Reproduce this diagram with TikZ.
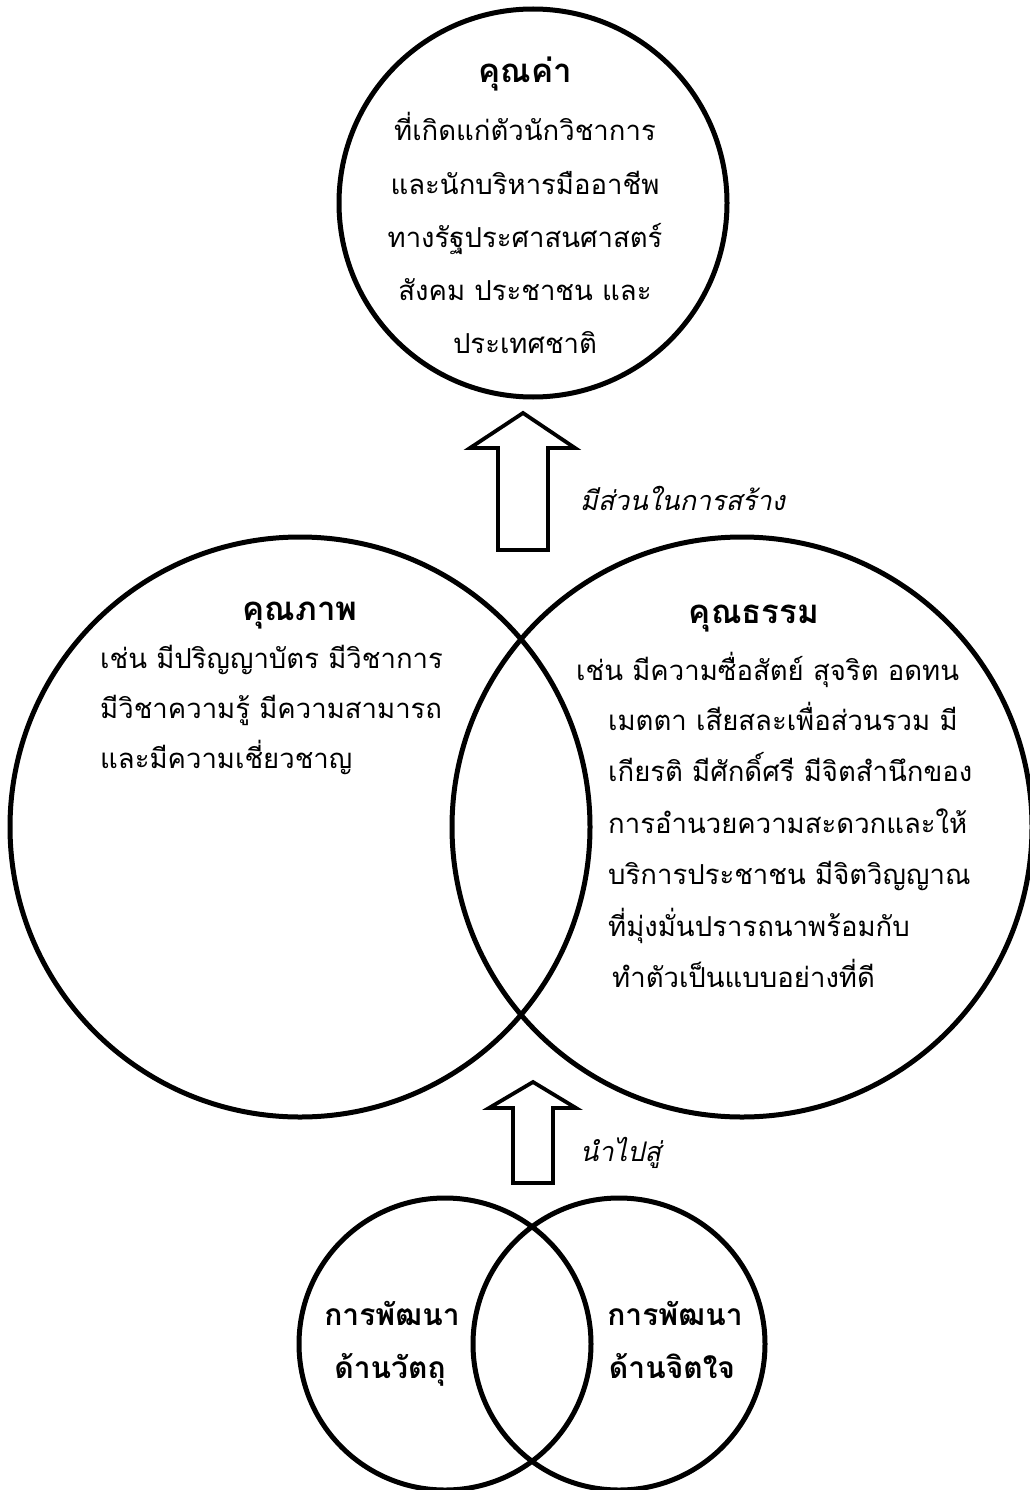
\documentclass[tikz,border=0pt]{standalone}
\usepackage{fontspec}
\newfontfamily\thai[Script=Thai]{Loma}
\tikzset{
  ring/.style={draw, circle, line width=5pt, inner sep=0pt},
  head/.style={font=\thai\bfseries\fontsize{33}{38}\selectfont, inner sep=0pt},
  subhead/.style={font=\thai\bfseries\fontsize{30}{36}\selectfont, inner sep=0pt},
  body/.style={font=\thai\fontsize{27.5}{32}\selectfont, inner sep=0pt},
  note/.style={font=\thai\itshape\fontsize{27}{32}\selectfont, inner sep=0pt},
  blockarrow/.style={draw, line width=3.8pt, fill=white, line join=miter}
}
\begin{document}
\begin{tikzpicture}[x=1pt,y=-1pt]
  \useasboundingbox (0,0) rectangle (1029,1490);
  \fill[white] (0,0) rectangle (1029,1490);
  % Circles
  \node[ring, minimum size=388pt] (cval) at (533,203) {};
  \node[ring, minimum size=580pt] (cqual) at (300,827) {};
  \node[ring, minimum size=580pt] (cmoral) at (742,827) {};
  \node[ring, minimum size=292pt] (cmat) at (445,1344) {};
  \node[ring, minimum size=292pt] (cmind) at (619,1344) {};
  % Value
  \node[head, anchor=base] (tval) at (525,83) {คุณค่า};
  \foreach \t [count=\i] in {ที่เกิดแก่ตัวนักวิชาการ, และนักบริหารมืออาชีพ, ทางรัฐประศาสนศาสตร์, สังคม ประชาชน และ, ประเทศชาติ}{
    \node[body, anchor=base] (val\i) at (525,{141+53*(\i-1)}) {\t};
  }
  % Quality
  \node[head, anchor=base] (tqual) at (300,620) {คุณภาพ};
  \foreach \t [count=\i] in {เช่น มีปริญญาบัตร มีวิชาการ, มีวิชาความรู้ มีความสามารถ, และมีความเชี่ยวชาญ}{
    \node[body, anchor=base west] (qual\i) at (100,{668+50*(\i-1)}) {\t};
  }
  % Morality
  \node[head, anchor=base] (tmoral) at (754,623) {คุณธรรม};
  \node[body, anchor=base west] (moral1) at (576,680) {เช่น มีความซื่อสัตย์ สุจริต อดทน};
  \foreach \t [count=\i from 2] in {เมตตา เสียสละเพื่อส่วนรวม มี, เกียรติ มีศักดิ์ศรี มีจิตสำนึกของ, การอำนวยความสะดวกและให้, บริการประชาชน มีจิตวิญญาณ, ที่มุ่งมั่นปรารถนาพร้อมกับ}{
    \node[body, anchor=base west] (moral\i) at (608,{730+51.5*(\i-2)}) {\t};
  }
  \node[body, anchor=base west] (moral7) at (612,987) {ทำตัวเป็นแบบอย่างที่ดี};
  % Arrows
  \coordinate (tip1) at (523,413);
  \coordinate (tip2) at (533,1082);
  \draw[blockarrow] (tip1) -- ++(52,35) -- ++(-27,0) -- ++(0,102) -- ++(-50,0)
    -- ++(0,-102) -- ++(-28,0) -- cycle;
  \draw[blockarrow] (tip2) -- ++(43,26) -- ++(-23,0) -- ++(0,75) -- ++(-40,0)
    -- ++(0,-75) -- ++(-24,0) -- cycle;
  \node[note, anchor=base west] (lbuild) at (580,510) {มีส่วนในการสร้าง};
  \node[note, anchor=base west] (llead) at (580,1161) {นำไปสู่};
  % Development
  \node[subhead, anchor=base] (mat1) at (392,1325) {การพัฒนา};
  \node[subhead, anchor=base] (mat2) at (390,1378) {ด้านวัตถุ};
  \node[subhead, anchor=base] (mind1) at (675,1325) {การพัฒนา};
  \node[subhead, anchor=base] (mind2) at (672,1378) {ด้านจิตใจ};
\end{tikzpicture}
\end{document}
